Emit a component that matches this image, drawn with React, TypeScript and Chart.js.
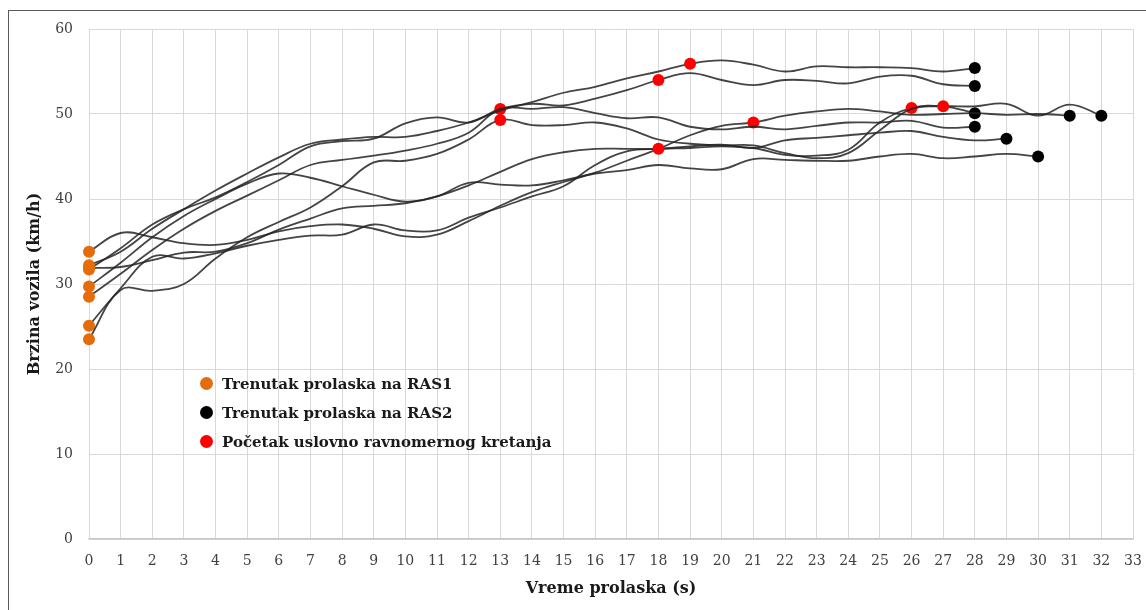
import React, { useEffect, useRef } from "react";
import { Chart, registerables } from "chart.js";

Chart.register(...registerables);

// Speed (km/h) of each vehicle, one value per second starting at t = 0 s
const vehicle1 = [32.2, 33.8, 36.5, 38.8, 41.0, 43.0, 44.9, 46.5, 47.0, 47.3, 47.3, 48.0, 49.0, 50.4, 51.4, 52.5, 53.2, 54.2, 55.0, 55.9, 56.3, 55.8, 55.0, 55.6, 55.5, 55.5, 55.4, 55.0, 55.4];
const vehicle2 = [31.7, 34.2, 37.0, 38.8, 40.2, 42.0, 44.0, 46.2, 46.8, 47.1, 48.9, 49.6, 49.0, 50.6, 51.2, 51.0, 51.8, 52.8, 54.0, 54.8, 54.0, 53.4, 54.0, 53.9, 53.6, 54.4, 54.5, 53.5, 53.3];
const vehicle3 = [28.5, 31.2, 34.0, 36.5, 38.6, 40.4, 42.2, 44.0, 44.6, 45.1, 45.7, 46.5, 47.8, 50.6, 50.6, 50.8, 50.1, 49.5, 49.6, 48.5, 48.2, 48.5, 48.2, 48.6, 49.0, 49.0, 49.2, 48.4, 48.5];
const vehicle4 = [23.5, 29.3, 29.2, 30.0, 33.0, 35.5, 37.3, 39.0, 41.5, 44.3, 44.5, 45.3, 47.0, 49.3, 48.7, 48.7, 49.0, 48.3, 47.0, 46.5, 46.3, 46.3, 45.4, 44.8, 45.4, 48.1, 50.6, 50.9, 50.9, 51.2, 49.8, 51.1, 49.8];
const vehicle5 = [31.9, 32.0, 32.8, 33.7, 33.8, 34.8, 36.4, 37.7, 38.9, 39.2, 39.5, 40.3, 41.6, 43.2, 44.7, 45.5, 45.9, 45.9, 45.9, 46.2, 46.4, 46.0, 46.9, 47.2, 47.5, 47.8, 48.0, 47.3, 46.9, 47.1];
const vehicle6 = [33.8, 36.0, 35.5, 34.8, 34.6, 35.2, 36.2, 36.8, 37.0, 36.5, 35.6, 35.8, 37.4, 39.2, 40.8, 42.0, 43.1, 44.5, 45.9, 47.5, 48.6, 49.0, 49.8, 50.3, 50.6, 50.3, 49.9, 50.0, 50.1, 49.9, 50.0, 49.8];
const vehicle7 = [29.7, 32.5, 35.5, 38.0, 40.0, 41.8, 43.0, 42.5, 41.5, 40.5, 39.7, 40.3, 41.9, 41.7, 41.6, 42.2, 43.0, 43.4, 44.0, 43.6, 43.5, 44.7, 44.6, 44.5, 44.5, 45.0, 45.3, 44.8, 45.0, 45.3, 45.0];
const vehicle8 = [25.1, 29.5, 33.2, 33.0, 33.6, 34.5, 35.2, 35.7, 35.8, 37.0, 36.3, 36.3, 37.8, 39.0, 40.3, 41.5, 44.0, 45.6, 45.9, 46.0, 46.2, 46.0, 45.2, 45.1, 45.8, 49.0, 50.7, 50.9, 50.1];

const vehicles = [vehicle1, vehicle2, vehicle3, vehicle4, vehicle5, vehicle6, vehicle7, vehicle8];

// Second at which the "uniform motion" begins (red marker) for each vehicle
const redSeconds = [[19], [18], [13], [13, 27], [18], [21], [], [26]];

const legendLabels = [
  "Trenutak prolaska na RAS1",
  "Trenutak prolaska na RAS2",
  "Početak uslovno ravnomernog kretanja",
];
const yTitle = "Brzina vozila (km/h)";
const xTitle = "Vreme prolaska (s)";

const ORANGE = "#E46C0A";
const RED = "#FF0000";
const BLACK = "#000000";
const legendColors = [ORANGE, BLACK, RED];

const FONT = "'DejaVu Serif', serif";

export default function App() {
  const canvasRef = useRef<HTMLCanvasElement | null>(null);

  useEffect(() => {
    const canvas = canvasRef.current;
    if (!canvas) return;
    const datasets = vehicles.map((vals, k) => {
      const last = vals.length - 1;
      const colors = vals.map((_, i) =>
        i === 0 ? ORANGE : i === last ? BLACK : redSeconds[k].includes(i) ? RED : "rgba(0,0,0,0)"
      );
      const radii = vals.map((_, i) =>
        i === 0 || i === last || redSeconds[k].includes(i) ? 6 : 0
      );
      return {
        label: "v" + (k + 1),
        data: vals.map((v, i) => ({ x: i, y: v })),
        borderColor: "rgba(35,35,35,0.85)",
        borderWidth: 1.8,
        tension: 0.4,
        pointRadius: radii,
        pointHoverRadius: radii,
        pointBackgroundColor: colors,
        pointBorderWidth: 0,
        pointBorderColor: colors,
        clip: false as any,
        fill: false,
      };
    });

    const chart = new Chart(canvas, {
      type: "line",
      data: { datasets },
      options: {
        animation: false,
        responsive: false,
        maintainAspectRatio: false,
        layout: { padding: { left: 0, right: 13, top: 18, bottom: 0 } },
        plugins: { legend: { display: false }, tooltip: { enabled: false } },
        scales: {
          x: {
            type: "linear",
            min: 0,
            max: 33,
            afterFit: (scale: any) => {
              scale.height = 70;
            },
            ticks: {
              stepSize: 1,
              padding: 2,
              color: "#404040",
              font: { family: FONT, size: 14 },
              maxRotation: 0,
              autoSkip: false,
            },
            grid: {
              color: "#d9d9d9",
              drawTicks: true,
              tickLength: 12,
              tickColor: "rgba(0,0,0,0)",
              lineWidth: 1,
            },
            border: { color: "#c8c8c8", width: 1.5 },
            title: {
              display: true,
              text: xTitle,
              color: "#1a1a1a",
              font: { family: FONT, size: 16, weight: "bold" },
              padding: { top: 0, bottom: 11 },
            },
          },
          y: {
            min: 0,
            max: 60,
            afterFit: (scale: any) => {
              scale.width = 80;
            },
            ticks: {
              stepSize: 10,
              padding: 3,
              color: "#404040",
              font: { family: FONT, size: 14 },
            },
            grid: {
              color: "#d9d9d9",
              drawTicks: true,
              tickLength: 13,
              tickColor: "rgba(0,0,0,0)",
              lineWidth: 1,
            },
            border: { color: "#d9d9d9", width: 1 },
            title: {
              display: true,
              text: yTitle,
              color: "#1a1a1a",
              font: { family: FONT, size: 16, weight: "bold" },
              padding: { top: 16, bottom: 0 },
            },
          },
        },
      },
    });
    return () => chart.destroy();
  }, []);

  return (
    <div style={{ position: "absolute", left: 0, top: 0, width: 1146, height: 610, overflow: "hidden", background: "#fff" }}>
      <div
        style={{
          position: "absolute",
          left: 8,
          top: 10,
          width: 1140,
          height: 601,
          border: "1px solid #595959",
          boxSizing: "border-box",
        }}
      />
      <canvas
        ref={canvasRef}
        width={1137}
        height={598}
        style={{ position: "absolute", left: 9, top: 11, width: 1137, height: 598 }}
      />
      <div style={{ position: "absolute", left: 200, top: 369 }}>
        {legendLabels.map((t, i) => (
          <div key={t} style={{ display: "flex", alignItems: "center", height: 29 }}>
            <span
              style={{
                display: "inline-block",
                width: 13,
                height: 13,
                borderRadius: "50%",
                background: legendColors[i],
                marginRight: 9,
              }}
            />
            <span style={{ fontFamily: FONT, fontWeight: "bold", fontSize: 15, color: "#1a1a1a", whiteSpace: "nowrap" }}>
              {t}
            </span>
          </div>
        ))}
      </div>
    </div>
  );
}
